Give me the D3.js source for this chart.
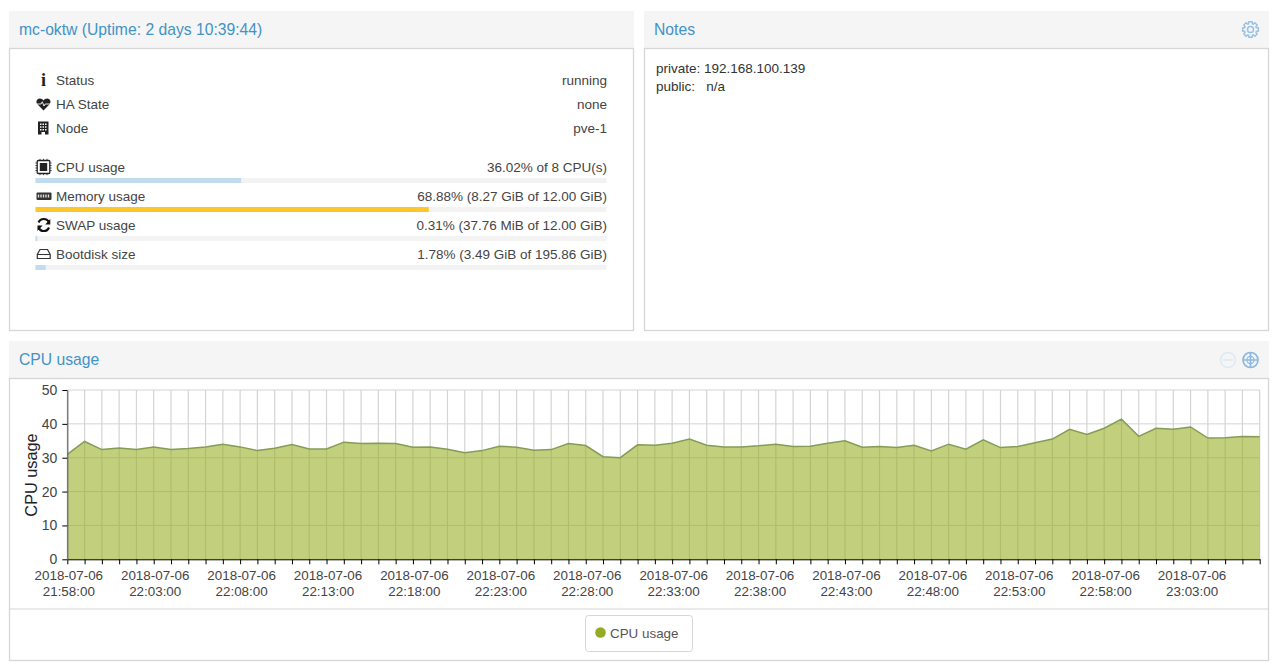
<!DOCTYPE html>
<html>
<head>
<meta charset="utf-8">
<title>mc-oktw</title>
<script src="https://cdn.jsdelivr.net/npm/d3@7"></script>
<style>
    html, body { margin: 0; padding: 0; background: #fff; }
    svg { display: block; }
    text { font-family: "Liberation Sans", Arial, sans-serif; }
</style>
</head>
<body>
<div id="page"></div>
<script>
const statusLabels = ["Status", "HA State", "Node"];
const statusValues = ["running", "none", "pve-1"];

const usageLabels = ["CPU usage", "Memory usage", "SWAP usage", "Bootdisk size"];
const usageTexts = [
    "36.02% of 8 CPU(s)",
    "68.88% (8.27 GiB of 12.00 GiB)",
    "0.31% (37.76 MiB of 12.00 GiB)",
    "1.78% (3.49 GiB of 195.86 GiB)"
];
const usagePercents = [36.02, 68.88, 0.31, 1.78];

const noteLines = ["private: 192.168.100.139", "public:   n/a"];

const cpuValues = [
    31.0, 34.8, 32.4, 32.9, 32.4, 33.2, 32.4, 32.7, 33.2, 34.0,
    33.2, 32.1, 32.8, 33.9, 32.6, 32.6, 34.6, 34.2, 34.3, 34.2,
    33.1, 33.2, 32.5, 31.5, 32.1, 33.4, 33.1, 32.2, 32.4, 34.2,
    33.6, 30.3, 30.0, 33.8, 33.7, 34.3, 35.5, 33.7, 33.2, 33.2,
    33.5, 34.0, 33.3, 33.4, 34.3, 35.0, 33.1, 33.3, 33.0, 33.7,
    32.0, 34.0, 32.5, 35.3, 33.0, 33.3, 34.4, 35.5, 38.4, 36.9,
    38.7, 41.4, 36.3, 38.7, 38.4, 39.1, 35.8, 35.9, 36.3, 36.2
];
const yTicks = [0, 10, 20, 30, 40, 50];
const startTime = "2018-07-06 21:58:00";

const width = 1280;
const height = 672;
const titleColor = "#4293c8";
const textColor = "#444";
const borderColor = "#d6d6d6";

const svg = d3.select("#page")
    .append("svg")
    .attr("width", width)
    .attr("height", height);

function panel(x, y, w, h, title) {
    svg.append("rect")
        .attr("x", x).attr("y", y)
        .attr("width", w).attr("height", 37)
        .attr("fill", "#f5f5f5");
    svg.append("rect")
        .attr("x", x + 0.5).attr("y", y + 37.5)
        .attr("width", w - 1).attr("height", h - 38)
        .attr("fill", "#fff")
        .attr("stroke", borderColor)
        .attr("stroke-width", 1.3);
    svg.append("text")
        .attr("x", x + 10).attr("y", y + 23.5)
        .attr("font-size", "15.7px")
        .attr("fill", titleColor)
        .text(title);
}

panel(9, 11, 625, 320, "mc-oktw (Uptime: 2 days 10:39:44)");
panel(644, 11, 625, 320, "Notes");
panel(9, 341, 1260, 320, "CPU usage");

// ---- status rows
const rowText = (x, y, anchor, str) => svg.append("text")
    .attr("x", x).attr("y", y)
    .attr("text-anchor", anchor)
    .attr("font-size", "13.5px")
    .attr("fill", textColor)
    .text(str);

statusLabels.forEach((d, i) => {
    rowText(56, 85 + i * 24, "start", d);
    rowText(607, 85 + i * 24, "end", statusValues[i]);
});

// ---- usage rows
const barX = d3.scaleLinear().domain([0, 100]).range([35.5, 606.5]);
const usageColors = ["#c1dbef", "#fcc72c", "#c1dbef", "#c1dbef"];

usageLabels.forEach((d, i) => {
    const y = 172 + i * 29;
    rowText(56, y, "start", d);
    rowText(607, y, "end", usageTexts[i]);
    svg.append("rect")
        .attr("x", barX(0)).attr("y", y + 6)
        .attr("width", barX(100) - barX(0)).attr("height", 5)
        .attr("fill", "#f3f3f3");
    svg.append("rect")
        .attr("x", barX(0)).attr("y", y + 6)
        .attr("width", barX(usagePercents[i]) - barX(0)).attr("height", 5)
        .attr("fill", usageColors[i]);
});

// ---- small icons
const icons = svg.append("g").attr("fill", "#222");

icons.append("text")
    .attr("x", 43.5).attr("y", 85.5)
    .attr("text-anchor", "middle")
    .attr("font-size", "18px").attr("font-weight", "bold")
    .style("font-family", "'Liberation Serif', serif")
    .text("i");

icons.append("path")
    .attr("d", "M43.5 110.5 L37.6 104.4 C35.2 101.6 37 98.4 39.8 98.4 C41.4 98.4 42.8 99.3 43.5 100.4 C44.2 99.3 45.6 98.4 47.2 98.4 C50 98.4 51.8 101.6 49.4 104.4 Z");
icons.append("path")
    .attr("d", "M37 104 H41 L42.3 101.8 L44 106 L45.2 104 H50")
    .attr("fill", "none").attr("stroke", "#fff").attr("stroke-width", 0.9);

icons.append("path")
    .attr("fill-rule", "evenodd")
    .attr("d", "M38 121.5 H48.5 V134.5 H45 V132 H41.5 V134.5 H38 Z M40 123.5 V125 H41.5 V123.5 Z M42.5 123.5 V125 H44 V123.5 Z M45 123.5 V125 H46.5 V123.5 Z M40 126.2 V127.7 H41.5 V126.2 Z M42.5 126.2 V127.7 H44 V126.2 Z M45 126.2 V127.7 H46.5 V126.2 Z M40 128.9 V130.4 H41.5 V128.9 Z M42.5 128.9 V130.4 H44 V128.9 Z M45 128.9 V130.4 H46.5 V128.9 Z");

// cpu chip
icons.append("rect").attr("x", 37.2).attr("y", 160.5).attr("width", 12.6).attr("height", 13)
    .attr("rx", 1).attr("fill", "none").attr("stroke", "#222").attr("stroke-width", 1.3);
icons.append("rect").attr("x", 39.8).attr("y", 163).attr("width", 7.4).attr("height", 8);
icons.append("path")
    .attr("d", "M35.4 163 H37 M35.4 165.5 H37 M35.4 168 H37 M35.4 170.5 H37 M50 163 H51.6 M50 165.5 H51.6 M50 168 H51.6 M50 170.5 H51.6 M40 158.8 V160.4 M43.5 158.8 V160.4 M47 158.8 V160.4 M40 173.6 V175.2 M43.5 173.6 V175.2 M47 173.6 V175.2")
    .attr("stroke", "#222").attr("stroke-width", 0.8);

// memory stick
icons.append("rect").attr("x", 36.5).attr("y", 192.5).attr("width", 15).attr("height", 7.5).attr("rx", 1)
    .attr("fill", "#333");
icons.append("path")
    .attr("d", "M38.5 194.4 V197.4 M41 194.4 V197.4 M43.5 194.4 V197.4 M46 194.4 V197.4 M48.5 194.4 V197.4")
    .attr("stroke", "#ddd").attr("stroke-width", 1.4);

// refresh arrows
icons.append("path")
    .attr("d", "M49 222.5 A5.6 5.6 0 0 0 38.6 222.5 M38.6 227.5 A5.6 5.6 0 0 0 49 227.5")
    .attr("fill", "none").attr("stroke", "#111").attr("stroke-width", 2.2);
icons.append("path").attr("d", "M50.3 219 V224.4 H45.2 Z M37.5 231 V225.6 H42.6 Z").attr("fill", "#111");

// hard disk
icons.append("path")
    .attr("d", "M40 249.5 H47.5 L50.2 254.5 V258.5 H37.3 V254.5 Z M37.3 254.5 H50.2")
    .attr("fill", "none").attr("stroke", "#333").attr("stroke-width", 1.2);

// gear in the Notes header
const gear = svg.append("g").attr("transform", "translate(1250.5,29.5)")
    .attr("fill", "none").attr("stroke", "#9cc2e2");
gear.append("circle").attr("r", 3).attr("stroke-width", 1.5);
gear.append("path")
    .attr("stroke-width", 1.5)
    .attr("d", d3.range(8).map(i => {
        const a = i * Math.PI / 4, a1 = a - 0.2, a2 = a + 0.2, b = a + Math.PI / 8;
        const p = (r, t) => `${(r * Math.cos(t)).toFixed(2)} ${(r * Math.sin(t)).toFixed(2)}`;
        return `${i ? "L" : "M"}${p(6, a1 - 0.13)} L${p(8, a1)} L${p(8, a2)} L${p(6, a2 + 0.13)} L${p(6, b)}`;
    }).join(" ") + " Z");

// zoom reset / zoom buttons
const minusBtn = svg.append("g").attr("transform", "translate(1228,360)")
    .attr("fill", "none").attr("stroke", "#dde9f3").attr("stroke-width", 1.5);
minusBtn.append("circle").attr("r", 7.5);
minusBtn.append("path").attr("d", "M-5 0 H5");

const plusBtn = svg.append("g").attr("transform", "translate(1250.5,360)")
    .attr("fill", "none").attr("stroke", "#8db9e0");
plusBtn.append("circle").attr("r", 7.5).attr("stroke-width", 1.7);
plusBtn.append("path").attr("d", "M0 -7 V7 M-7 0 H7").attr("stroke-width", 1.7);
plusBtn.append("circle").attr("r", 3.6).attr("stroke-width", 1.1);

// ---- notes
noteLines.forEach((d, i) => {
    svg.append("text")
        .attr("x", 656).attr("y", 73 + i * 18)
        .attr("font-size", "13.5px")
        .attr("fill", "#333")
        .style("white-space", "pre")
        .text(d);
});

// ---- cpu chart
const parseTime = d3.timeParse("%Y-%m-%d %H:%M:%S");
const times = cpuValues.map((d, i) => d3.timeMinute.offset(parseTime(startTime), i));

const x = d3.scaleTime()
    .domain([times[0], times[times.length - 1]])
    .range([67.3, 1259.7]);

const y = d3.scaleLinear()
    .domain([0, 50])
    .range([559.3, 390]);

// grid under the area, it shows through the fill
svg.append("g")
    .selectAll("line")
    .data(yTicks)
    .enter()
    .append("line")
    .attr("x1", x.range()[0]).attr("x2", x.range()[1])
    .attr("y1", d => y(d)).attr("y2", d => y(d))
    .attr("stroke", "#d4d4d4")
    .attr("stroke-width", 1);

svg.append("g")
    .selectAll("line")
    .data(times)
    .enter()
    .append("line")
    .attr("x1", d => x(d)).attr("x2", d => x(d))
    .attr("y1", y(50)).attr("y2", y(0))
    .attr("stroke", "#d4d4d4")
    .attr("stroke-width", 1.2);

const area = d3.area()
    .x((d, i) => x(times[i]))
    .y0(y(0))
    .y1(d => y(d));

const line = d3.line()
    .x((d, i) => x(times[i]))
    .y(d => y(d));

svg.append("path")
    .datum(cpuValues)
    .attr("d", area)
    .attr("fill", "#96ae21")
    .attr("fill-opacity", 0.58);

svg.append("path")
    .datum(cpuValues)
    .attr("d", line)
    .attr("fill", "none")
    .attr("stroke", "#849c55")
    .attr("stroke-width", 1.5);

const fmtDate = d3.timeFormat("%Y-%m-%d");
const fmtTime = d3.timeFormat("%H:%M:%S");

const xAxisG = svg.append("g")
    .attr("transform", `translate(0,${y(0)})`)
    .call(d3.axisBottom(x).tickValues(times).tickSize(5).tickSizeOuter(0).tickFormat(""));

xAxisG.selectAll(".tick text").remove();
xAxisG.selectAll(".tick")
    .filter((d, i) => i % 5 === 0)
    .append("text")
    .attr("fill", textColor)
    .attr("text-anchor", "middle")
    .attr("font-size", "13.4px")
    .each(function(d) {
        d3.select(this).append("tspan").attr("x", 1).attr("y", 21).text(fmtDate(d));
        d3.select(this).append("tspan").attr("x", 1).attr("y", 36.5).text(fmtTime(d));
    });

const yAxisG = svg.append("g")
    .attr("transform", `translate(${x.range()[0]},0)`)
    .call(d3.axisLeft(y).tickValues(yTicks).tickSize(5).tickSizeOuter(0).tickPadding(5));

yAxisG.selectAll("text")
    .attr("font-size", "14px")
    .attr("fill", textColor)
    .style("font-family", "'Liberation Sans', Arial, sans-serif");

yAxisG.select(".domain").attr("stroke", "#666").attr("stroke-width", 1.2);

svg.append("text")
    .attr("transform", "translate(36.5,475) rotate(-90)")
    .attr("text-anchor", "middle")
    .attr("font-size", "16.3px")
    .attr("fill", "#222")
    .text("CPU usage");

// ---- legend
svg.append("line")
    .attr("x1", 9).attr("x2", 1269)
    .attr("y1", 609).attr("y2", 609)
    .attr("stroke", borderColor)
    .attr("stroke-width", 1.2);

svg.append("rect")
    .attr("x", 585.5).attr("y", 615.5)
    .attr("width", 107).attr("height", 36)
    .attr("rx", 3)
    .attr("fill", "#fff")
    .attr("stroke", borderColor);

svg.append("circle")
    .attr("cx", 600.5).attr("cy", 632.5)
    .attr("r", 5.3)
    .attr("fill", "#96ab22");

svg.append("text")
    .attr("x", 610).attr("y", 637.5)
    .attr("font-size", "13.4px")
    .attr("fill", "#555")
    .text("CPU usage");
</script>
</body>
</html>
